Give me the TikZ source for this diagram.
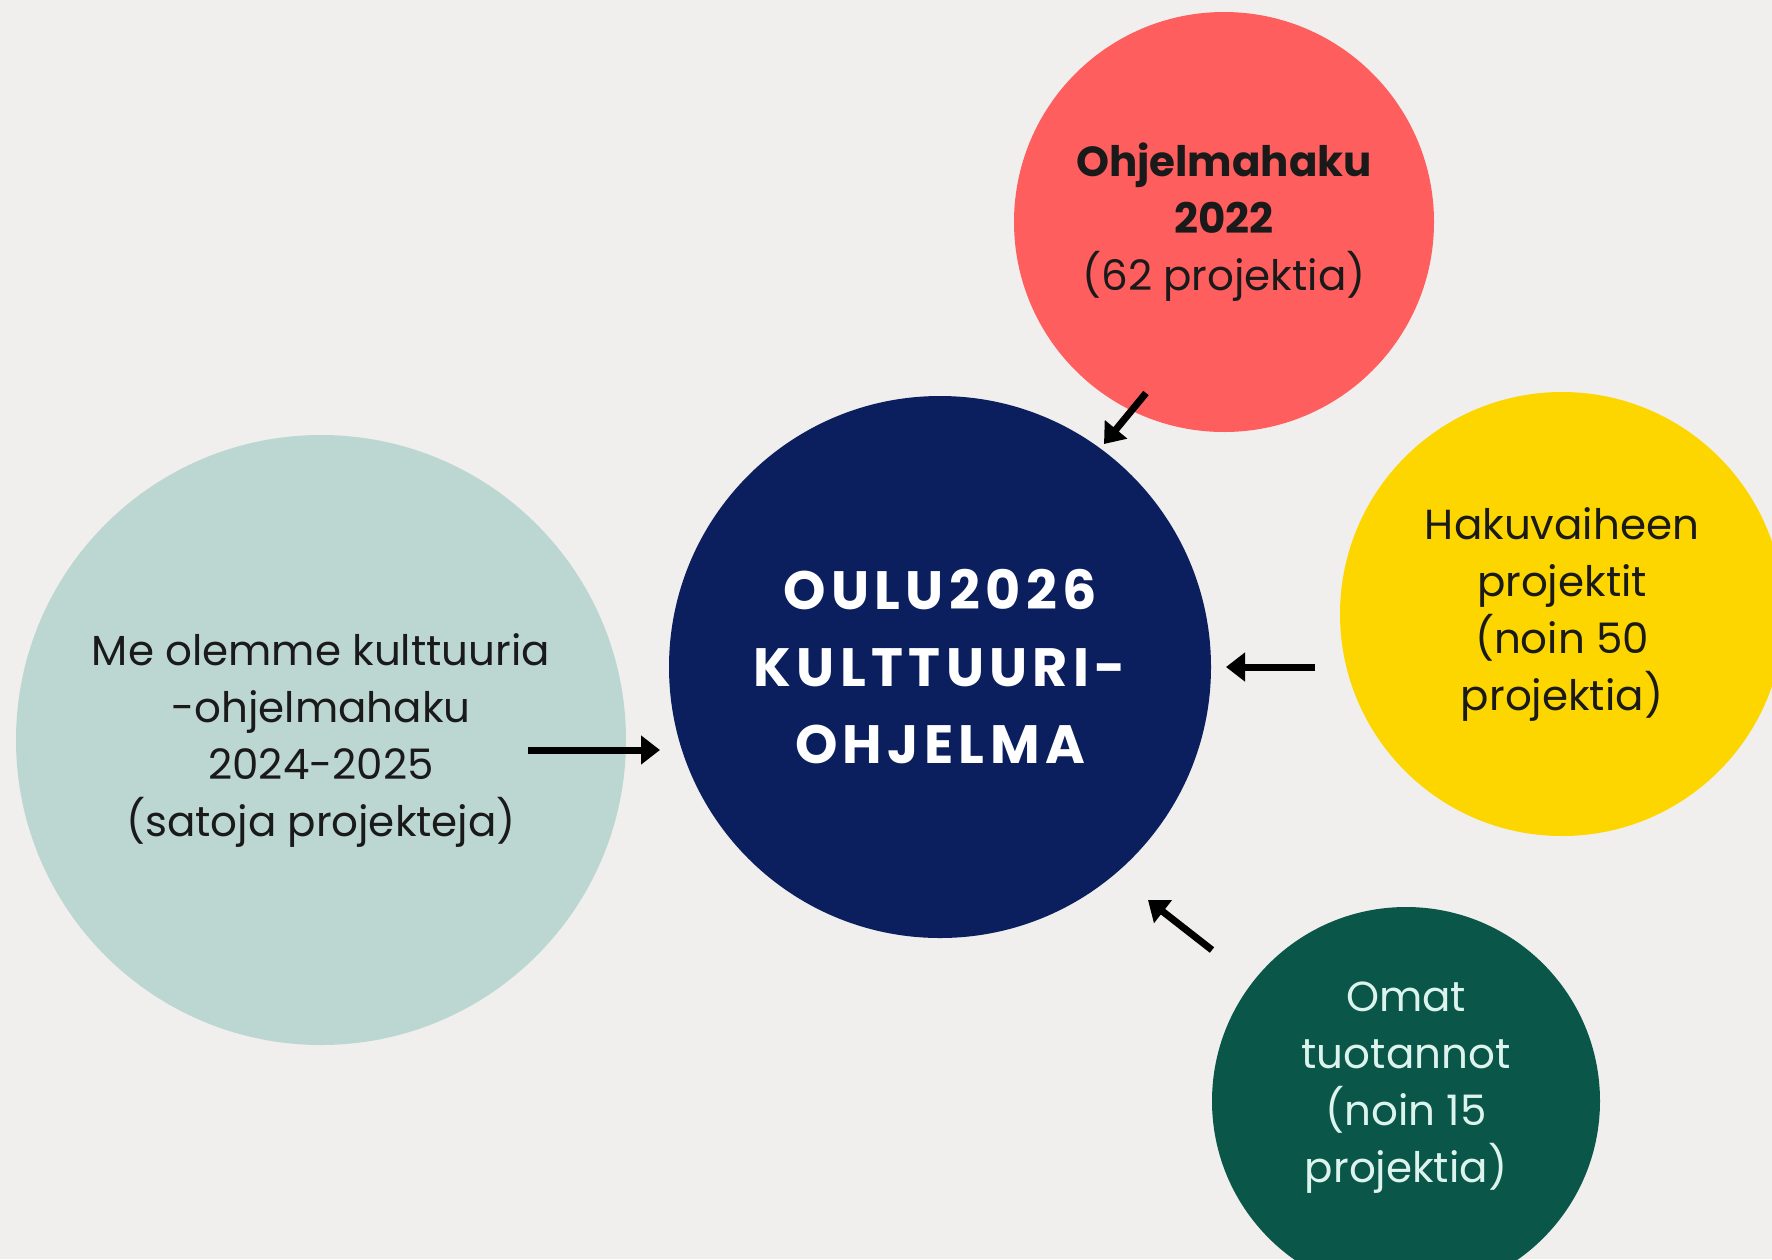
\documentclass[tikz,border=0pt]{standalone}
\usepackage{fontspec}
\setmainfont{Poppins}
\usetikzlibrary{arrows.meta}
\definecolor{bg}{HTML}{F0EFED}
\definecolor{navy}{HTML}{0B1F5E}
\definecolor{teal}{HTML}{BCD7D1}
\definecolor{coral}{HTML}{FE5E5E}
\definecolor{sun}{HTML}{FDD600}
\definecolor{forest}{HTML}{0A574A}
\definecolor{mint}{HTML}{DDF3EE}
\definecolor{ink}{HTML}{1A1A1A}
\tikzset{
  blob/.style={circle, inner sep=0pt, align=center, text=ink,
    font=\fontsize{42}{57}\selectfont},
  words/.style={inner sep=0pt, align=center, text=ink,
    font=\fontsize{42}{57}\selectfont},
  arr/.style={line width=7pt, draw=black, -{Triangle[length=19pt,width=28pt]}}
}
\begin{document}
\begin{tikzpicture}[x=1pt,y=-1pt]
\useasboundingbox (0,0) rectangle (1772,1259);
\clip (0,0) rectangle (1772,1259);
\fill[bg] (0,0) rectangle (1772,1259);

\node[blob, fill=teal, minimum size=610pt] (teal) at (321,740)
  {Me olemme kulttuuria\\-ohjelmahaku\\2024-2025\\(satoja projekteja)};
\node[blob, fill=navy, minimum size=542pt, text=white,
  font=\fontsize{54}{77}\selectfont\bfseries\addfontfeature{LetterSpace=10}] (navy) at (940,667)
  {OULU2026\\KULTTUURI-\\OHJELMA};
\node[blob, fill=coral, minimum size=420pt] (red) at (1224,222)
  {\textbf{Ohjelmahaku}\\\textbf{2022}\\(62 projektia)};
\node[blob, fill=sun, minimum size=444pt] (yellow) at (1562,614)
  {Hakuvaiheen\\projektit\\(noin 50\\projektia)};
\node[blob, fill=forest, minimum size=388pt] (green) at (1406,1101) {};
\node[words, text=mint] (greentext) at (1406,1088)
  {Omat\\tuotannot\\(noin 15\\projektia)};

\coordinate (a1) at (1146,393);
\coordinate (a2) at (1104,444);
\coordinate (b1) at (1315,667);
\coordinate (b2) at (1226,667);
\coordinate (c1) at (1212,950);
\coordinate (c2) at (1148,900);
\coordinate (d1) at (528,750);
\coordinate (d2) at (660,750);
\draw[arr] (a1) -- (a2);
\draw[arr] (b1) -- (b2);
\draw[arr] (c1) -- (c2);
\draw[arr] (d1) -- (d2);
\end{tikzpicture}
\end{document}
